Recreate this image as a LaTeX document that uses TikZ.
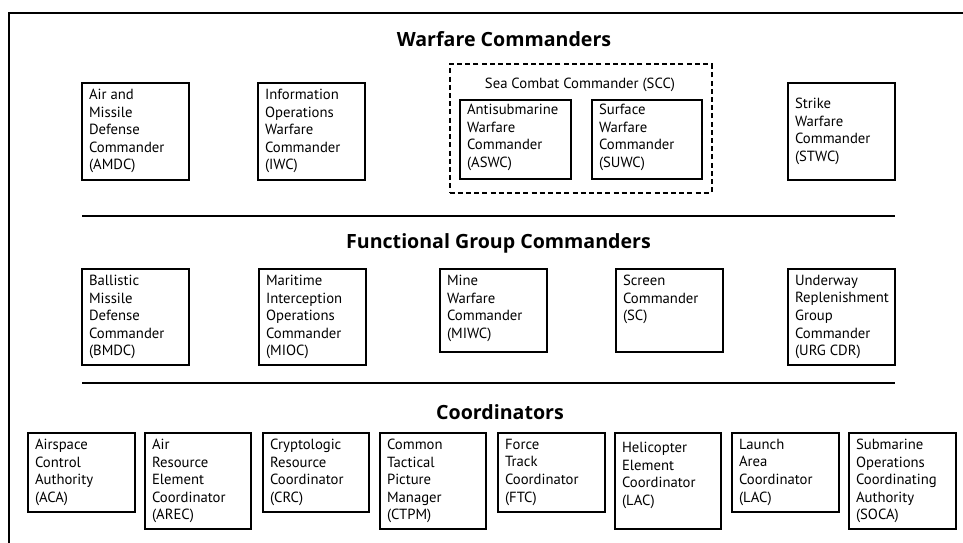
\documentclass[tikz,border=0pt]{standalone}
\usepackage{fontspec}
\setmainfont{PT Sans}
\newfontfamily\ttlfont{Open Sans}
\begin{document}
\begin{tikzpicture}[x=1pt,y=-1pt,
  boxshape/.style={draw, line width=2.3pt, inner sep=0pt, rectangle},
  lbl/.style={inner sep=0pt, align=left, font=\fontsize{14.7}{17.6}\selectfont},
  ttl/.style={inner sep=0pt, font=\ttlfont\fontsize{19.6}{23}\selectfont\bfseries},
  rule/.style={line width=2.4pt},
  frame/.style={line width=2.7pt}]
\useasboundingbox (0,0) rectangle (963,543);
\newcommand\bx[7]{%
  \node[boxshape, minimum width={(#4-#2)*1pt}, minimum height={(#5-#3)*1pt}] (#1) at ({(#2+#4)/2},{(#3+#5)/2}) {};
  \node[lbl, anchor=north west] (#1-t) at ([shift={(8,#6)}]#1.north west) {#7};}
\newcommand\bxc[6]{%
  \node[boxshape, minimum width={(#4-#2)*1pt}, minimum height={(#5-#3)*1pt}] (#1) at ({(#2+#4)/2},{(#3+#5)/2}) {};
  \node[lbl, anchor=west] (#1-t) at ([shift={(8,0)}]#1.west) {#6};}
% frame
\coordinate (ftr) at (963,13);
\coordinate (ftl) at (9,13);
\coordinate (fbl) at (9,543);
\draw[frame] (ftr) -- (ftl) -- (fbl);
% titles
\node[ttl] (t1) at (504,39) {Warfare Commanders};
\node[ttl] (t2) at (498.5,243) {Functional Group Commanders};
\node[ttl] (t3) at (500,412) {Coordinators};
% rules
\coordinate (r1a) at (82,216); \coordinate (r1b) at (895,216);
\coordinate (r2a) at (82,383); \coordinate (r2b) at (895,383);
\draw[rule] (r1a) -- (r1b);
\draw[rule] (r2a) -- (r2b);
% row 1
\bx{amdc}{82}{83}{189}{180}{7}{Air and\\Missile\\Defense\\Commander\\(AMDC)}
\bx{iwc}{258}{83}{365}{180}{7}{Information\\Operations\\Warfare\\Commander\\(IWC)}
\node[draw, dashed, dash pattern=on 5pt off 3.2pt, line width=2pt, minimum width=262pt, minimum height=128pt, inner sep=0pt] (scc) at (580.5,128.5) {};
\node[lbl] (scc-t) at (580,85) {Sea Combat Commander (SCC)};
\bx{aswc}{460}{100}{571}{179}{5}{Antisubmarine\\Warfare\\Commander\\(ASWC)}
\bx{suwc}{592}{100}{702}{179}{5}{Surface\\Warfare\\Commander\\(SUWC)}
\bxc{stwc}{788}{83}{895}{180}{Strike\\Warfare\\Commander\\(STWC)}
% row 2
\bx{bmdc}{82}{269}{189}{365}{7}{Ballistic\\Missile\\Defense\\Commander\\(BMDC)}
\bx{mioc}{259}{269}{366}{365}{7}{Maritime\\Interception\\Operations\\Commander\\(MIOC)}
\bx{miwc}{440}{269}{547}{352}{7}{Mine\\Warfare\\Commander\\(MIWC)}
\bx{sc}{616}{269}{723}{352}{7}{Screen\\Commander\\(SC)}
\bx{urg}{788}{269}{895}{365}{7}{Underway\\Replenishment\\Group\\Commander\\(URG CDR)}
% row 3
\bx{aca}{28}{433}{135}{512}{7}{Airspace\\Control\\Authority\\(ACA)}
\bx{arec}{145}{433}{251}{529}{7}{Air\\Resource\\Element\\Coordinator\\(AREC)}
\bx{crc}{263}{433}{369}{512}{7}{Cryptologic\\Resource\\Coordinator\\(CRC)}
\bx{ctpm}{380}{433}{486}{529}{7}{Common\\Tactical\\Picture\\Manager\\(CTPM)}
\bx{ftc}{498}{433}{605}{512}{7}{Force\\Track\\Coordinator\\(FTC)}
\bx{hec}{615}{433}{721}{529}{10}{Helicopter\\Element\\Coordinator\\(LAC)}
\bx{lac}{732}{433}{839}{512}{7}{Launch\\Area\\Coordinator\\(LAC)}
\bx{soca}{849}{433}{956}{529}{7}{Submarine\\Operations\\Coordinating\\Authority\\(SOCA)}
\end{tikzpicture}
\end{document}
